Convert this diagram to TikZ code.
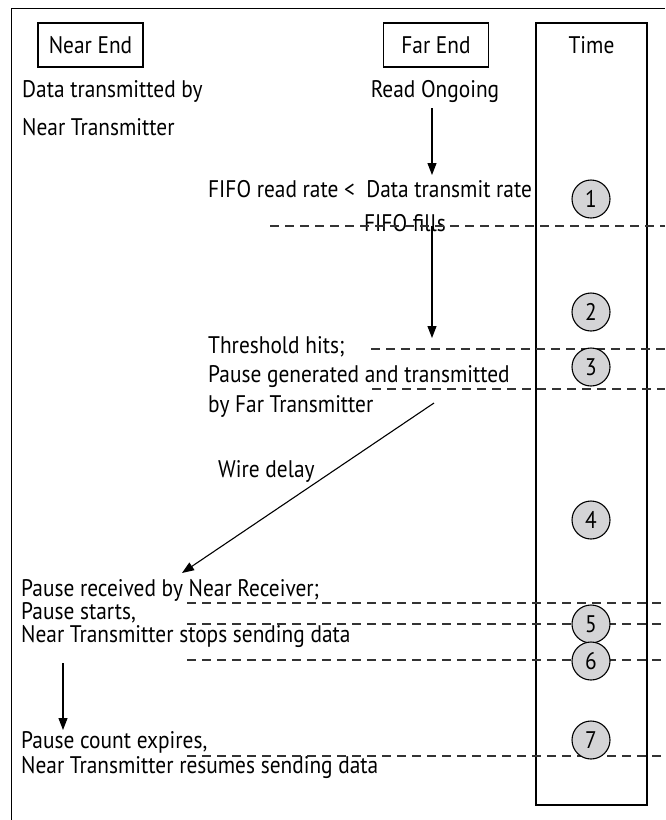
\documentclass[tikz,border=0pt]{standalone}
\usepackage{fontspec}
\setmainfont{PT Sans}[FakeStretch=0.89]
\usetikzlibrary{arrows.meta}
\definecolor{numfill}{HTML}{D4D4D6}
\definecolor{dashcol}{HTML}{333333}
\newcommand{\dfont}{\fontsize{24}{26}\selectfont}
\begin{document}
\begin{tikzpicture}[x=1pt,y=-1pt,
  lbl/.style={font=\dfont, inner sep=0pt, anchor=base west},
  clbl/.style={font=\dfont, inner sep=0pt, anchor=base},
  hdr/.style={draw, line width=1.1pt, minimum width=105pt, minimum height=44pt, inner sep=0pt, font=\dfont},
  num/.style={circle, draw, line width=1.1pt, fill=numfill, minimum size=38pt, inner sep=0pt, font=\dfont},
  dline/.style={dash pattern=on 9pt off 6pt, line width=1.1pt, draw=dashcol},
  arr/.style={-{Triangle[length=12pt,width=9pt]}, line width=1.1pt},
  frame/.style={line width=1pt}
]
\useasboundingbox (0,0) rectangle (665,820);
% outer frame (cut by the page)
\coordinate (fbl) at (11,820);
\coordinate (ftl) at (11,8);
\coordinate (ftr) at (665,8);
\draw[frame] (fbl) -- (ftl) -- (ftr);

% header boxes
\node[hdr] (near) at (90.5,45) {Near End};
\node[hdr] (far) at (436,45) {Far End};
\node[draw, line width=1.1pt, minimum width=111pt, minimum height=782pt, inner sep=0pt] (timebox) at (591.5,414) {};
\node[font=\dfont, inner sep=0pt] (timelbl) at (591.5,45) {Time};

% texts
\node[lbl] (t1) at (22,97) {Data transmitted by};
\node[lbl] (t2) at (22,135) {Near Transmitter};
\node[clbl] (read) at (435,97) {Read Ongoing};
\node[lbl] (fifo) at (208,197) {FIFO read rate <\ \ Data transmit rate};
\node[lbl] (fills) at (364,231) {FIFO fills};
\node[lbl] (thr) at (208,353) {Threshold hits;};
\node[lbl] (pgen) at (208,382) {Pause generated and transmitted};
\node[lbl] (byfar) at (208,412) {by Far Transmitter};
\node[lbl] (wire) at (218,477) {Wire delay};
\node[lbl] (prec) at (21,596) {Pause received by Near Receiver;};
\node[lbl] (pst) at (21,619) {Pause starts,};
\node[lbl] (nstop) at (21,642) {Near Transmitter stops sending data};
\node[lbl] (pexp) at (21,748) {Pause count expires,};
\node[lbl] (nres) at (21,773) {Near Transmitter resumes sending data};

% arrows
\coordinate (a1s) at (432,108);
\coordinate (a1e) at (432,175);
\draw[arr] (a1s) -- (a1e);
\coordinate (a2s) at (432,226);
\coordinate (a2e) at (432,338);
\draw[arr] (a2s) -- (a2e);
\coordinate (a3s) at (434,403);
\coordinate (a3e) at (182,573);
\draw[arr] (a3s) -- (a3e);
\coordinate (a4s) at (63,663);
\coordinate (a4e) at (63,730);
\draw[arr] (a4s) -- (a4e);

% dashed time markers
\foreach \n/\xs/\y in {1/270/226, 2/371/349, 3/372/389, 4/187/603, 5/187/624, 6/187/660, 7/187/756}{
  \coordinate (ds\n) at (\xs,\y);
  \coordinate (de\n) at (665,\y);
  \draw[dline] (ds\n) -- (de\n);
}

% numbered circles
\node[num] (c1) at (591,199) {1};
\node[num] (c2) at (591,312) {2};
\node[num] (c3) at (591,367) {3};
\node[num] (c4) at (591,520) {4};
\node[num] (c5) at (591,624) {5};
\node[num] (c6) at (591,661) {6};
\node[num] (c7) at (591,740) {7};
\end{tikzpicture}
\end{document}
